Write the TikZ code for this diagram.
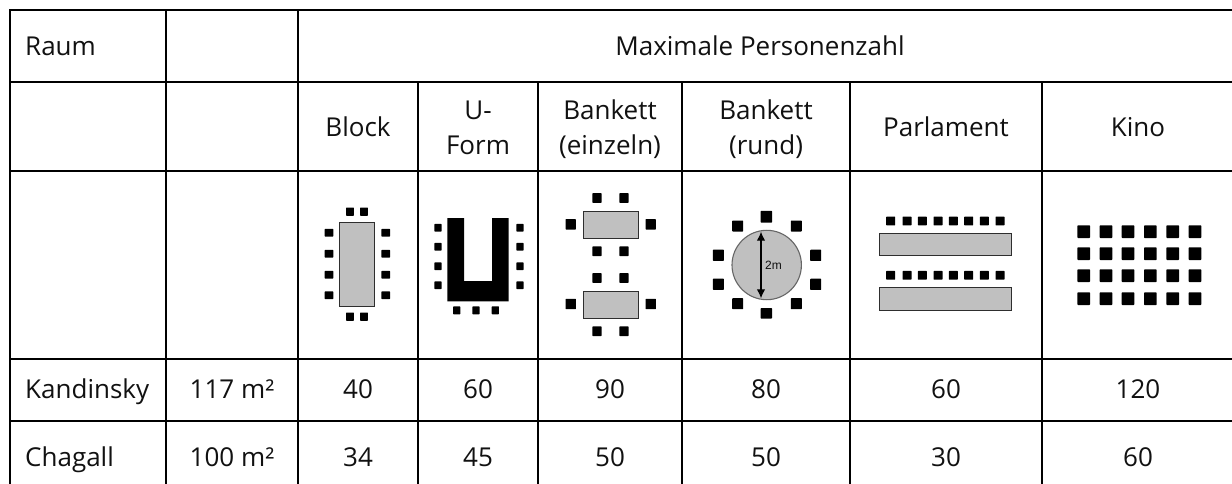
\documentclass[tikz,border=0pt]{standalone}
\usepackage{fontspec}
\setmainfont{Open Sans}
\newfontfamily\labelfont{Liberation Sans}
\usetikzlibrary{arrows.meta}
\definecolor{txt}{HTML}{111111}
\definecolor{tablegray}{HTML}{C0C0C0}
\definecolor{tableedge}{HTML}{2E2E2E}
\tikzset{
  gridline/.style={line width=2pt,black},
  lbl/.style={font=\fontsize{26}{26}\selectfont,text=txt,anchor=base,inner sep=0pt},
  tabletop/.style={fill=tablegray,draw=tableedge,line width=1pt},
  chair/.style={fill=black,rounded corners=0.6pt}
}
% chair: centre x, centre y, width, height
\newcommand{\chairat}[4]{\fill[chair] ({#1-#3/2},{#2-#4/2}) rectangle ({#1+#3/2},{#2+#4/2});}
\begin{document}
\begin{tikzpicture}[x=1pt,y=-1pt]
\useasboundingbox (0,0) rectangle (1232,484);
\fill[white] (0,0) rectangle (1232,484);
% grid
\foreach \yy in {10,82.5,171,359,421} \draw[gridline] (9,\yy) -- (1232,\yy);
\foreach \xx in {10,166,298} \draw[gridline] (\xx,10) -- (\xx,484);
\foreach \xx in {418,538,682,850,1042} \draw[gridline] (\xx,82.5) -- (\xx,484);
% header texts
\node[lbl,anchor=base west] (raum) at (25,56) {Raum};
\node[lbl] (maxp) at (760,56) {Maximale Personenzahl};
\node[lbl] (block) at (358,137) {Block};
\node[lbl] (u1) at (478,120) {U-};
\node[lbl] (u2) at (478,154) {Form};
\node[lbl] (be1) at (610,120) {Bankett};
\node[lbl] (be2) at (610,154) {(einzeln)};
\node[lbl] (br1) at (766,120) {Bankett};
\node[lbl] (br2) at (766,154) {(rund)};
\node[lbl] (parl) at (946,137) {Parlament};
\node[lbl] (kino) at (1138,137) {Kino};
% rows
\node[lbl,anchor=base west] (k) at (25,398) {Kandinsky};
\node[lbl] (km) at (232,398) {117 m²};
\node[lbl] (k1) at (358,398) {40};
\node[lbl] (k2) at (478,398) {60};
\node[lbl] (k3) at (610,398) {90};
\node[lbl] (k4) at (766,398) {80};
\node[lbl] (k5) at (946,398) {60};
\node[lbl] (k6) at (1138,398) {120};
\node[lbl,anchor=base west] (c) at (25,466) {Chagall};
\node[lbl] (cm) at (232,466) {100 m²};
\node[lbl] (c1) at (358,466) {34};
\node[lbl] (c2) at (478,466) {45};
\node[lbl] (c3) at (610,466) {50};
\node[lbl] (c4) at (766,466) {50};
\node[lbl] (c5) at (946,466) {30};
\node[lbl] (c6) at (1138,466) {60};
% Block icon
\draw[tabletop] (339.3,222) rectangle (374.7,306);
\foreach \xx in {350,364} \foreach \yy in {211.7,316.7} {\chairat{\xx}{\yy}{7.8}{8.4}}
\foreach \xx in {329,385.7} \foreach \yy in {232.7,253.7,274.7,295.3} {\chairat{\xx}{\yy}{8.6}{7.8}}
% U icon
\fill[black] (447.3,218) -- (464,218) -- (464,281) -- (492,281) -- (492,218) -- (508.7,218) -- (508.7,301.3) -- (447.3,301.3) -- cycle;
\foreach \xx in {438,520} \foreach \yy in {227.7,246.7,266.3,285.3} {\chairat{\xx}{\yy}{7.2}{7.8}}
\foreach \xx in {456.7,476,495.3} {\chairat{\xx}{310.3}{7.2}{8}}
% Bankett einzeln icon
\draw[tabletop] (583.3,211.7) rectangle (638,238.7);
\draw[tabletop] (583.3,291) rectangle (638,318.3);
\foreach \xx in {597,624} \foreach \yy in {198,251.3,278,331.3} {\chairat{\xx}{\yy}{9.2}{9.8}}
\foreach \xx in {570.7,650.7} \foreach \yy in {224.3,304} {\chairat{\xx}{\yy}{10.4}{10.4}}
% Bankett rund icon
\node[circle,minimum size=69.4pt,inner sep=0pt,fill=tablegray,draw=black!60,line width=1.1pt] (rt) at (766.7,265) {};
\coordinate (rt1) at (761,231.7);
\coordinate (rt2) at (761,298.3);
\draw[line width=1.1pt,{Latex[length=9pt,width=8.5pt]}-{Latex[length=9pt,width=8.5pt]}] (rt1) -- (rt2);
\node[font=\labelfont\fontsize{12}{12}\selectfont,text=txt,inner sep=0pt] (rtl) at (773.5,265.7) {2m};
\chairat{766.3}{216.7}{11.4}{11.8}
\chairat{766.3}{313.3}{11.4}{10.4}
\foreach \xx in {737.7,796.3} \foreach \yy in {226,303.7} {\chairat{\xx}{\yy}{11}{11}}
\foreach \xx in {718.3,815.7} \foreach \yy in {255.3,284.3} {\chairat{\xx}{\yy}{11}{11.2}}
% Parlament icon
\draw[tabletop] (879.3,233) rectangle (1011.7,255.7);
\draw[tabletop] (879.3,287.3) rectangle (1011.7,310);
\foreach \xx in {890.7,907,922.3,938,953.3,968.7,984.3,1000} \foreach \yy in {221,275.3} {\chairat{\xx}{\yy}{9}{8.8}}
% Kino icon
\foreach \xx in {1083.7,1106,1128,1150.3,1172.7,1195} \foreach \yy in {231.7,253.7,275.7,298.7} {\chairat{\xx}{\yy}{12.6}{12.6}}
\end{tikzpicture}
\end{document}
